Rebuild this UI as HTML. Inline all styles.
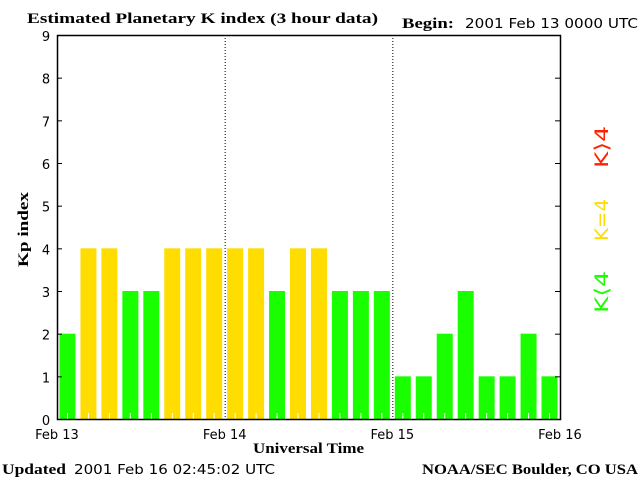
<!DOCTYPE html>
<html><head><meta charset="utf-8"><style>
body{margin:0;background:#fff;width:640px;height:480px;overflow:hidden}
svg{display:block}
text{font-family:"DejaVu Sans","Liberation Sans",sans-serif;font-size:13px;fill:#000}
.s{font-family:"Liberation Serif",serif;font-weight:bold;font-size:15px}
</style></head><body>
<svg id="c" width="640" height="480">
<text class="s" x="27" y="23" textLength="351" lengthAdjust="spacingAndGlyphs">Estimated Planetary K index (3 hour data)</text>
<text class="s" x="402" y="28" textLength="52" lengthAdjust="spacingAndGlyphs">Begin:</text>
<text x="465" y="28" textLength="173" lengthAdjust="spacingAndGlyphs">2001 Feb 13 0000 UTC</text>
<text class="s" transform="translate(28,267) rotate(-90)" textLength="75" lengthAdjust="spacingAndGlyphs">Kp index</text>
<text class="s" x="253" y="453" textLength="111" lengthAdjust="spacingAndGlyphs">Universal Time</text>
<text class="s" x="2" y="474" textLength="64" lengthAdjust="spacingAndGlyphs">Updated</text>
<text x="74" y="474" textLength="201" lengthAdjust="spacingAndGlyphs">2001 Feb 16 02:45:02 UTC</text>
<text class="s" x="422" y="474" textLength="216" lengthAdjust="spacingAndGlyphs">NOAA/SEC Boulder, CO USA</text>
<text transform="translate(608,168) rotate(-90)" textLength="42" lengthAdjust="spacingAndGlyphs" style="fill:#ff2000;font-size:19px">K⟩4</text>
<text transform="translate(608,241) rotate(-90)" textLength="42" lengthAdjust="spacingAndGlyphs" style="fill:#ffdd00;font-size:19px">K=4</text>
<text transform="translate(608,313) rotate(-90)" textLength="42" lengthAdjust="spacingAndGlyphs" style="fill:#1aff00;font-size:19px">K⟨4</text>
<g id="g"></g>
</svg>
<script>
const kpValues=[2,4,4,3,3,4,4,4,4,4,3,4,4,3,3,3,1,1,2,3,1,1,2,1];
const yTicks=[0,1,2,3,4,5,6,7,8,9];
const dayLabels=["Feb 13","Feb 14","Feb 15","Feb 16"];
const L=57,R=560,T=35,B=419;
const N=kpValues.length;
const x=i=>L+(R-L)*i/N;
const y=v=>B-(B-T)*v/9;
const g=document.getElementById('g');
const NS='http://www.w3.org/2000/svg';
function mk(t,a){const e=document.createElementNS(NS,t);for(const k in a)e.setAttribute(k,a[k]);g.appendChild(e);return e;}
kpValues.forEach((v,i)=>{
  const col=v>4?'#ff2000':v==4?'#ffdd00':'#1aff00';
  const bx=x(i)+(R-L)/N/2;
  const r=mk('rect',{x:bx-8,y:y(v),width:16,height:B-y(v),fill:col});
  
  
  const t=mk('line',{x1:bx,x2:bx,y1:B-6,y2:B,stroke:'#fff'});
  
  
});
for(let d=1;d<3;d++){
  const l=mk('line',{x1:x(d*8)+0.5,x2:x(d*8)+0.5,y1:T,y2:B,stroke:'#000','stroke-dasharray':'1,2'});
  
  
}
const ax=mk('rect',{x:L+0.5,y:T+0.5,width:R-L,height:B-T,fill:'none',stroke:'#000','stroke-width':1.5});


yTicks.forEach(v=>{
  mk('line',{x1:L,x2:L+5,y1:y(v)+0.5,y2:y(v)+0.5,stroke:'#000'});
  mk('line',{x1:R-5,x2:R,y1:y(v)+0.5,y2:y(v)+0.5,stroke:'#000'});
  const t=mk('text',{x:46,y:y(v)+6,'text-anchor':'middle'});
  t.textContent=v;
  
  
});
dayLabels.forEach((s,i)=>{
  const t=mk('text',{x:x(i*8),y:439,'text-anchor':'middle'});
  t.textContent=s;
  
  
});
</script>
</body></html>
